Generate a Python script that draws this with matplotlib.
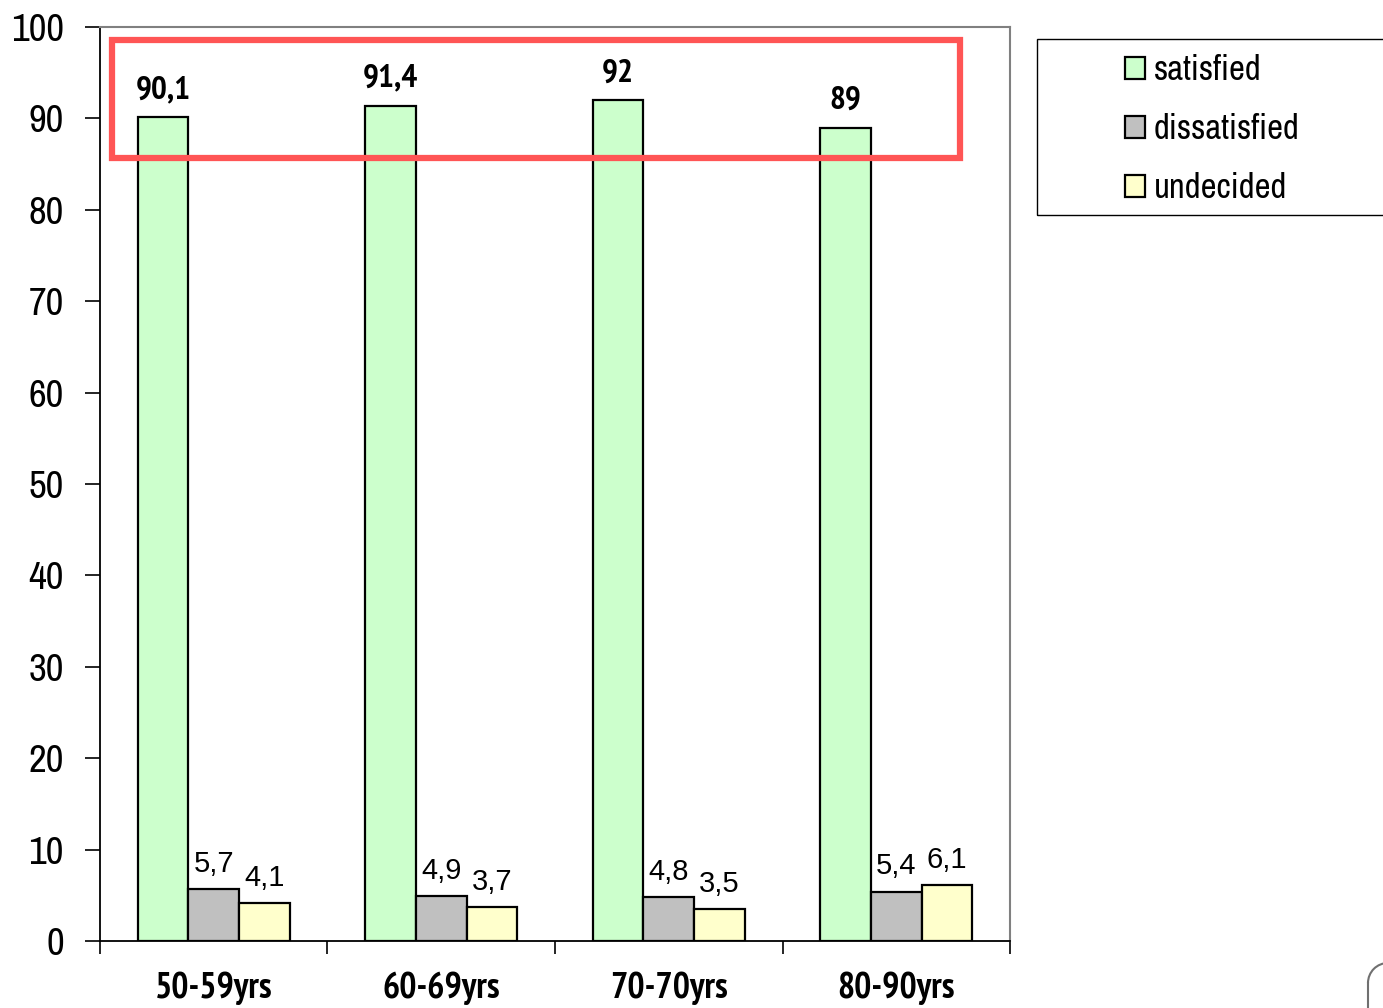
import numpy as np
import matplotlib.pyplot as plt
from matplotlib import font_manager
from matplotlib.font_manager import FontProperties
from matplotlib.patches import Rectangle, Arc
from matplotlib.lines import Line2D

# satisfaction by age group, in percent
groups = ["50-59yrs", "60-69yrs", "70-70yrs", "80-90yrs"]
satisfied = [90.1, 91.4, 92, 89]
dissatisfied = [5.7, 4.9, 4.8, 5.4]
undecided = [4.1, 3.7, 3.5, 6.1]
series_names = ["satisfied", "dissatisfied", "undecided"]
colors = ["#CCFFCC", "#C0C0C0", "#FFFFCC"]


def pick_font(bold):
    # narrow sans faces by file, falling back to Liberation Sans
    cands = [f for f in font_manager.fontManager.ttflist
             if ("Narrow" in f.name or "Condensed" in f.name)
             and f.style == "normal"]
    want = [f for f in cands
            if (int(f.weight) >= 600 if isinstance(f.weight, int) or str(f.weight).isdigit()
                else "bold" in str(f.weight)) == bold]
    want.sort(key=lambda f: (0 if "Narrow" in f.name else 1, f.name))
    if want:
        return want[0].fname
    return None


def fp(size, bold=False):
    fn = pick_font(bold)
    if fn:
        return FontProperties(fname=fn, size=size)
    return FontProperties(family=["Liberation Sans", "DejaVu Sans"], size=size,
                          weight="bold" if bold else "normal")


def fmt(v):
    return ("%g" % v).replace(".", ",")


fig = plt.figure(figsize=(13.83, 10.08), dpi=100)
ax = fig.add_axes([0.0723, 0.0665, 0.658, 0.9067])

x = np.arange(len(groups))
w = 0.223
series = [satisfied, dissatisfied, undecided]
bars = []
for i, (vals, c) in enumerate(zip(series, colors)):
    b = ax.bar(x + (i - 1) * w, vals, w, color=c, edgecolor="black",
               linewidth=1.6, zorder=2, label=series_names[i])
    bars.append(b)
    for xi, v in zip(x + (i - 1) * w, vals):
        if i == 0:
            ax.annotate(fmt(v), (xi, v), xytext=(0, 13.5), textcoords="offset points",
                        ha="center", va="baseline", fontproperties=fp(24, True))
        else:
            ax.annotate(fmt(v), (xi, v), xytext=(0, 12.5), textcoords="offset points",
                        ha="center", va="baseline",
                        fontproperties=FontProperties(family=["Liberation Sans", "DejaVu Sans"],
                                                      size=21))

ax.set_xlim(-0.5, 3.5)
ax.set_ylim(0, 100)
ax.set_yticks(range(0, 101, 10))
ax.set_yticklabels([str(v) for v in range(0, 101, 10)], fontproperties=fp(28))

# category boundaries get the ticks, names sit centred below each group
ax.set_xticks(np.arange(-0.5, 4, 1))
ax.set_xticklabels([])
ax.set_xticks(x, minor=True)
ax.set_xticklabels(groups, minor=True, fontproperties=fp(26, True))
ax.tick_params(axis="x", which="minor", length=0, pad=22)
ax.tick_params(axis="x", which="major", length=9, width=1.2, direction="out")
ax.tick_params(axis="y", length=11, width=1.2, direction="out", pad=15)

for s in ["top", "right"]:
    ax.spines[s].set_color("#808080")
    ax.spines[s].set_linewidth(1.5)
for s in ["left", "bottom"]:
    ax.spines[s].set_color("black")
    ax.spines[s].set_linewidth(1.3)

# highlight box around the satisfied values
ax.add_patch(Rectangle((-0.447, 85.7), 3.727, 12.9, fill=False,
                       edgecolor="#FF5555", linewidth=4.5, zorder=5, clip_on=False))

# legend with its own frame running off the right edge
fig.patches.append(Rectangle((0.7498, 0.787), 0.27, 0.174, transform=fig.transFigure,
                             fill=False, edgecolor="black", linewidth=1.0))
leg = fig.legend(handles=bars, labels=series_names, loc="upper left",
                 bbox_to_anchor=(0.7933, 0.974), frameon=False,
                 prop=fp(25), handlelength=0.58,
                 handleheight=0.58, handletextpad=0.25, labelspacing=0.78,
                 borderpad=0.3)

# corner of a rounded shape peeking in at the bottom right
fig.patches.append(Arc((1.0036, 0.0248), 0.0289, 0.0397, theta1=90, theta2=180,
                       transform=fig.transFigure, edgecolor="#707070", linewidth=1.5))
fig.lines.append(Line2D([0.9892, 0.9892], [0.0248, 0.0], transform=fig.transFigure,
                        color="#707070", linewidth=1.5))

fig.savefig("out.png", dpi=100)
